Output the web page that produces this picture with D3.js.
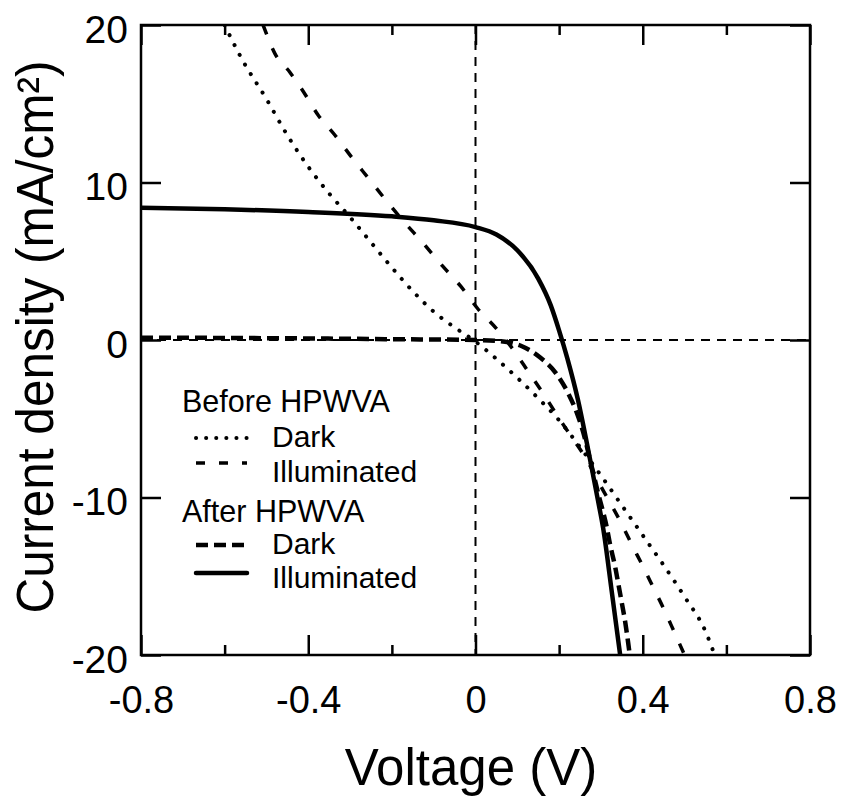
<!DOCTYPE html>
<html><head><meta charset="utf-8">
<script src="https://cdn.jsdelivr.net/npm/d3@7"></script>
<style>body{margin:0;background:#fff}svg{display:block}text{font-family:"Liberation Sans",Arial,sans-serif;fill:#000}</style>
</head><body><svg id="c" width="855" height="796"></svg>
<script>
// ---- data ----
const xMajorTicks = [-0.8, -0.4, 0, 0.4, 0.8];
const xMinorTicks = [-0.6, -0.2, 0.2, 0.6];
const yTicks = [-20, -10, 0, 10, 20];

const beforeDarkV = [-0.6, -0.56, -0.5, -0.45, -0.4, -0.35, -0.3, -0.25, -0.2, -0.15, -0.1, -0.05, 0, 0.05, 0.1, 0.15, 0.2, 0.25, 0.3, 0.35, 0.4, 0.45, 0.5, 0.55, 0.572];
const beforeDarkJ = [20, 17.9, 15.3, 13.0, 11.0, 9.3, 7.8, 6.2, 4.6, 3.1, 1.8, 0.8, -0.1, -1.2, -2.4, -3.7, -5.1, -6.8, -8.6, -10.5, -12.4, -14.3, -16.3, -18.5, -20];

const beforeIllumV = [-0.508, -0.48, -0.444, -0.41, -0.377, -0.336, -0.296, -0.257, -0.215, -0.171, -0.127, -0.079, -0.035, 0.005, 0.049, 0.09, 0.126, 0.162, 0.198, 0.231, 0.266, 0.3, 0.346, 0.374, 0.401, 0.425, 0.449, 0.473, 0.5];
const beforeIllumJ = [20, 18.2, 17.0, 15.7, 14.3, 13.0, 11.6, 10.3, 8.9, 7.5, 6.2, 4.7, 3.4, 2.0, 0.76, -0.6, -2.0, -3.4, -4.9, -6.2, -7.6, -9.3, -11.5, -13.0, -14.4, -15.7, -17.0, -18.4, -20];

const afterDarkV = [-0.8, -0.6, -0.4, -0.2, 0, 0.05, 0.08, 0.111, 0.154, 0.195, 0.222, 0.242, 0.257, 0.274, 0.293, 0.305, 0.314, 0.322, 0.334, 0.341, 0.35, 0.358, 0.365, 0.369];
const afterDarkJ = [0.15, 0.13, 0.1, 0.05, 0.0, -0.05, -0.15, -0.4, -1.1, -2.2, -3.4, -4.6, -5.8, -7.6, -9.7, -10.9, -11.9, -13.0, -14.4, -15.4, -16.7, -17.9, -19.2, -20];

const afterIllumV = [-0.8, -0.6, -0.4, -0.2, -0.1, 0, 0.05, 0.1, 0.15, 0.18, 0.2, 0.22, 0.245, 0.266, 0.28, 0.293, 0.305, 0.326, 0.346];
const afterIllumJ = [8.4, 8.3, 8.13, 7.85, 7.6, 7.17, 6.7, 5.7, 3.9, 2.2, 0.6, -1.2, -3.8, -6.5, -8.4, -10.2, -11.9, -16.0, -20];

const legendGroups = ["Before HPWVA", "After HPWVA"];
const legendItems = ["Dark", "Illuminated", "Dark", "Illuminated"];
const xTitle = "Voltage (V)";
const yTitle = "Current density (mA/cm²)";

// ---- layout ----
const L = 141, R = 810, T = 25, B = 655;
const svg = d3.select("#c");
const x = d3.scaleLinear().domain([-0.8, 0.8]).range([L, R]);
const y = d3.scaleLinear().domain([-20, 20]).range([B, T]);

const fmt = d => d === 0 ? "0" : (d < 0 ? "-" : "") + Math.abs(d).toFixed(1);

// reference lines at V=0, J=0
svg.append("line").attr("x1", x(0)).attr("x2", x(0)).attr("y1", T).attr("y2", B)
  .attr("stroke", "#000").attr("stroke-width", 2).attr("stroke-dasharray", "9,7");
svg.append("line").attr("x1", L).attr("x2", R).attr("y1", y(0)).attr("y2", y(0))
  .attr("stroke", "#000").attr("stroke-width", 2).attr("stroke-dasharray", "9,7");

// series
const styles = [
  {V: beforeDarkV, J: beforeDarkJ, w: 4, dash: "0.1,11", cap: "round"},
  {V: beforeIllumV, J: beforeIllumJ, w: 3.5, dash: "10,15", cap: "butt"},
  {V: afterDarkV, J: afterDarkJ, w: 4.5, dash: "12,6", cap: "butt"},
  {V: afterIllumV, J: afterIllumJ, w: 4.5, dash: null, cap: "round"}
];
const line = d3.line().x(d => x(d[0])).y(d => y(d[1])).curve(d3.curveMonotoneX);
svg.append("clipPath").attr("id", "clip").append("rect")
  .attr("x", L).attr("y", T).attr("width", R - L).attr("height", B - T);
const g = svg.append("g").attr("clip-path", "url(#clip)");
styles.forEach(s => {
  g.append("path").datum(s.V.map((v, i) => [v, s.J[i]]))
    .attr("d", line).attr("fill", "none").attr("stroke", "#000")
    .attr("stroke-width", s.w).attr("stroke-linecap", s.cap)
    .attr("stroke-dasharray", s.dash);
});

// frame
svg.append("rect").attr("x", L).attr("y", T).attr("width", R - L).attr("height", B - T)
  .attr("fill", "none").attr("stroke", "#000").attr("stroke-width", 2.5);

// axes (ticks inward)
const styleAxis = sel => {
  sel.select(".domain").remove();
  sel.selectAll(".tick line").attr("stroke-width", 2.5);
};
const xb = svg.append("g").attr("transform", `translate(0,${B})`)
  .call(d3.axisBottom(x).tickValues(xMajorTicks).tickFormat(fmt).tickSizeInner(-20).tickSizeOuter(0).tickPadding(0));
styleAxis(xb);
xb.selectAll("text").attr("y", 58).attr("dy", 0).attr("font-size", 38)
  .attr("font-family", "Liberation Sans, Arial, sans-serif");
const xbm = svg.append("g").attr("transform", `translate(0,${B})`)
  .call(d3.axisBottom(x).tickValues(xMinorTicks).tickFormat("").tickSizeInner(-10).tickSizeOuter(0));
styleAxis(xbm);
const xt = svg.append("g").attr("transform", `translate(0,${T})`)
  .call(d3.axisTop(x).tickValues(xMajorTicks).tickFormat("").tickSizeInner(-20).tickSizeOuter(0));
styleAxis(xt);
const xtm = svg.append("g").attr("transform", `translate(0,${T})`)
  .call(d3.axisTop(x).tickValues(xMinorTicks).tickFormat("").tickSizeInner(-10).tickSizeOuter(0));
styleAxis(xtm);
const yl = svg.append("g").attr("transform", `translate(${L},0)`)
  .call(d3.axisLeft(y).tickValues(yTicks).tickFormat(d => d < 0 ? "-" + Math.abs(d) : String(d)).tickSizeInner(-20).tickSizeOuter(0).tickPadding(0));
styleAxis(yl);
yl.selectAll("text").attr("x", -13).attr("dy", 0).attr("y", 17).attr("font-size", 39)
  .attr("font-family", "Liberation Sans, Arial, sans-serif");
const yr = svg.append("g").attr("transform", `translate(${R},0)`)
  .call(d3.axisRight(y).tickValues(yTicks).tickFormat("").tickSizeInner(-20).tickSizeOuter(0));
styleAxis(yr);

// titles
svg.append("text").attr("x", 471).attr("y", 785).attr("text-anchor", "middle")
  .attr("font-size", 51).text(xTitle);
svg.append("text").attr("transform", "translate(53,337) rotate(-90)").attr("text-anchor", "middle")
  .attr("font-size", 51).attr("textLength", 553).attr("lengthAdjust", "spacingAndGlyphs").text(yTitle);

// legend
const lg = svg.append("g");
lg.append("text").attr("x", 182).attr("y", 412).attr("font-size", 30.5).text(legendGroups[0]);
lg.append("text").attr("x", 182).attr("y", 522).attr("font-size", 30.5).text(legendGroups[1]);
const itemY = [447, 482, 554, 588];
const sampleY = [438, 463, 545, 573];
legendItems.forEach((t, i) => {
  lg.append("text").attr("x", 272).attr("y", itemY[i]).attr("font-size", 30).text(t);
  const s = styles[i];
  lg.append("line").attr("x1", 196).attr("x2", 247).attr("y1", sampleY[i]).attr("y2", sampleY[i])
    .attr("stroke", "#000").attr("stroke-width", s.w).attr("stroke-linecap", s.cap)
    .attr("stroke-dasharray", i === 0 ? "0.1,10" : (i === 1 ? "9,14" : s.dash));
});
</script></body></html>
